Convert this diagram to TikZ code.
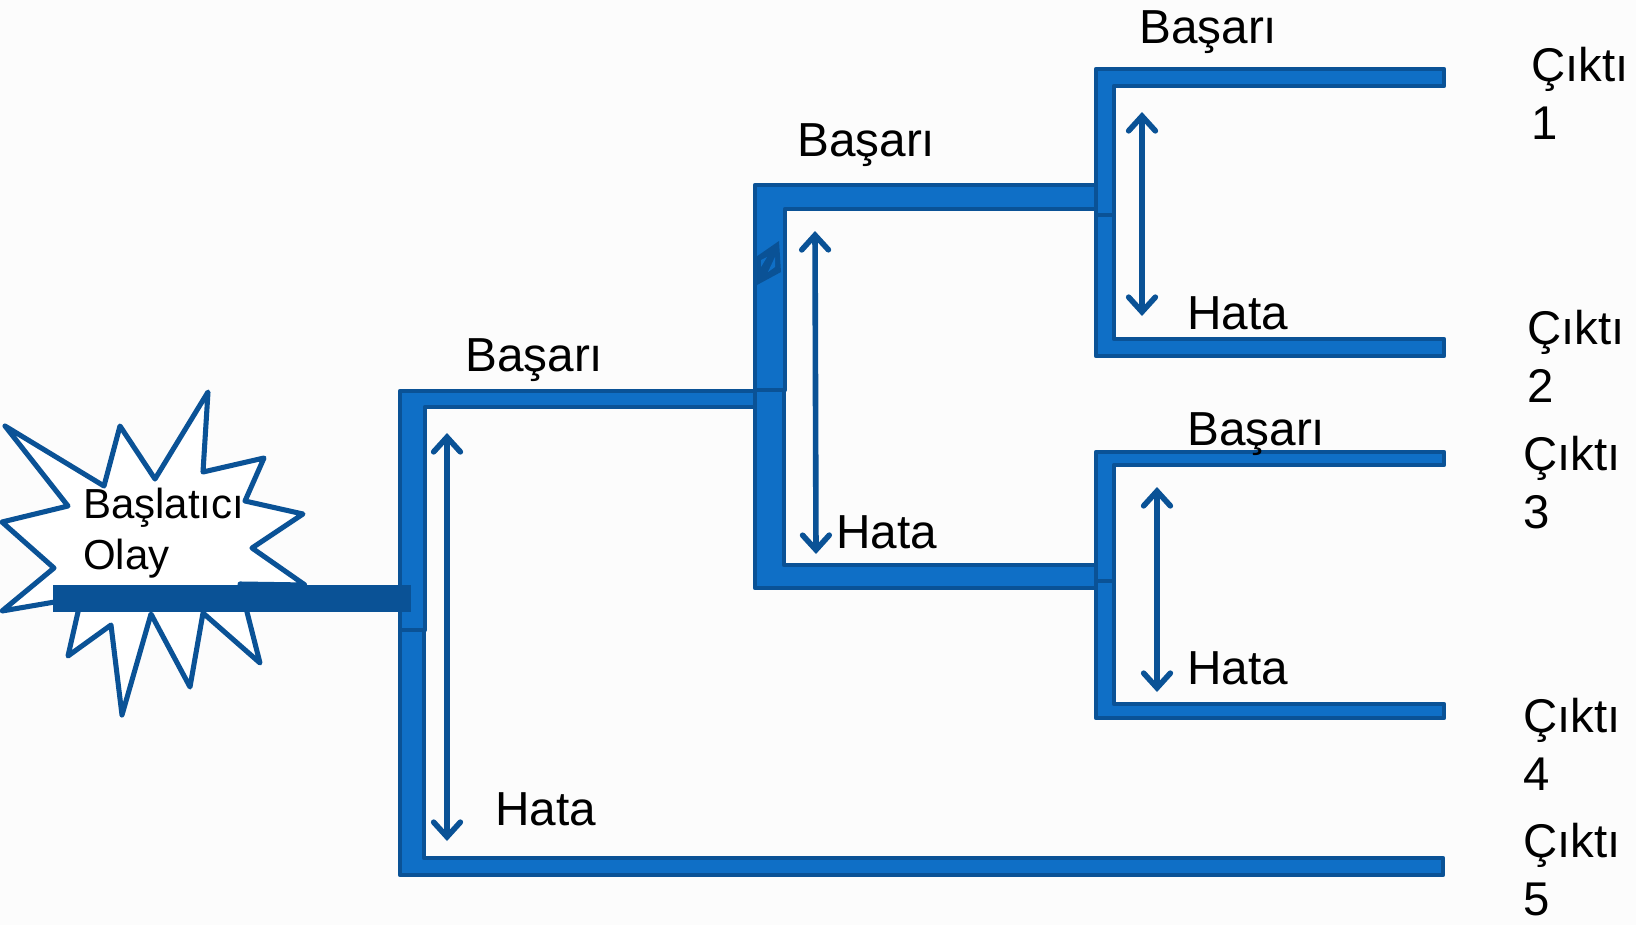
\documentclass[tikz,border=0pt]{standalone}
\usepackage{fontspec}
\setmainfont{Liberation Sans}
\usetikzlibrary{arrows.meta}
\definecolor{koyu}{HTML}{0A5296}
\definecolor{dal}{HTML}{0F6FC6}

\begin{document}
\begin{tikzpicture}[x=0.75pt,y=-0.75pt,
      branch/.style={draw=koyu,fill=dal,line width=3.6pt,line join=round},
      patlama/.style={draw=koyu,fill=white,line width=3.8pt,line join=round},
      aralik/.style={draw=koyu,line width=4.2pt,line cap=round,{Straight Barb[length=11pt,width=20pt,line cap=round]}-{Straight Barb[length=11pt,width=20pt,line cap=round]}},
      etiket/.style={anchor=base west,inner sep=0pt,font=\fontsize{35.8}{42}\selectfont},
      cikti/.style={anchor=north west,inner sep=0pt,align=left,font=\fontsize{35.5}{43.5}\selectfont}]

    \fill[black!1] (0,0) rectangle (1636,925);
    \useasboundingbox (0,0) rectangle (1636,925);

    % baslatici olay
    \draw[patlama] (5,426) -- (104,486) -- (120,426) -- (155,479) -- (208,392) -- (203,472)
      -- (264,458) -- (245,501) -- (303,514) -- (252,548) -- (305,585) -- (240,584)
      -- (247,612) -- (260,663) -- (203,613) -- (190,687) -- (151,614) -- (122,715)
      -- (111,625) -- (68,656) -- (78,612) -- (78,598) -- (2,611) -- (54,568) -- (2,522)
      -- (68,506) -- cycle;
    \node[anchor=base west,inner sep=0pt,align=left,font=\fontsize{31.5}{38}\selectfont] (olay) at (83,518) {Başlatıcı};
    \node[anchor=base west,inner sep=0pt,font=\fontsize{31.5}{38}\selectfont] (olay2) at (83,569) {Olay};

    % birinci dal
    \draw[branch] (400,598) -- (400,875) -- (1443,875) -- (1443,858) -- (424,858) -- (424,598) -- cycle;
    \draw[branch] (400,630) -- (400,391) -- (755,391) -- (755,407) -- (425,407) -- (425,630) -- cycle;

    % ikinci dal
    \draw[branch] (755,390) -- (755,588) -- (1097,588) -- (1097,565) -- (784,565) -- (784,390) -- cycle;
    \draw[branch] (755,390) -- (755,185) -- (1097,185) -- (1097,209) -- (785,209) -- (785,390) -- cycle;
    \fill[koyu] (753,259) -- (779,241) -- (781,272) -- (757,285) -- cycle;
    \fill[dal] (761,260) -- (767,257) -- (761,267) -- cycle;
    \fill[dal] (775,257) -- (775,267) -- (768,272) -- cycle;

    % ucuncu dallar
    \draw[branch] (1096,215) -- (1096,356) -- (1444,356) -- (1444,339) -- (1114,339) -- (1114,215) -- cycle;
    \draw[branch] (1096,215) -- (1096,69) -- (1444,69) -- (1444,86) -- (1114,86) -- (1114,215) -- cycle;
    \draw[branch] (1096,581) -- (1096,718) -- (1444,718) -- (1444,704) -- (1114,704) -- (1114,581) -- cycle;
    \draw[branch] (1096,581) -- (1096,452) -- (1444,452) -- (1444,465) -- (1114,465) -- (1114,581) -- cycle;

    % baslangic cubugu
    \node[fill=koyu,inner sep=0pt,minimum width=268.5pt,minimum height=20pt,anchor=north west] (bar) at (53,585) {};

    % araliklar
    \coordinate (a1) at (447,433);
    \coordinate (b1) at (447,841);
    \coordinate (a2) at (815,231);
    \coordinate (b2) at (816,554);
    \coordinate (a3) at (1142,112);
    \coordinate (b3) at (1142,316);
    \coordinate (a4) at (1157,487);
    \coordinate (b4) at (1157,692);
    \draw[aralik] (a1) -- (b1);
    \draw[aralik] (a2) -- (b2);
    \draw[aralik] (a3) -- (b3);
    \draw[aralik] (a4) -- (b4);

    \node[etiket] (b1lbl) at (465,371) {Başarı};
    \node[etiket] (b2lbl) at (797,156) {Başarı};
    \node[etiket] (b3lbl) at (1139,43) {Başarı};
    \node[etiket] (b4lbl) at (1187,445) {Başarı};
    \node[etiket] (h1lbl) at (495,825) {Hata};
    \node[etiket] (h2lbl) at (836,548) {Hata};
    \node[etiket] (h3lbl) at (1187,329) {Hata};
    \node[etiket] (h4lbl) at (1187,684) {Hata};

    \node[cikti] (c1) at (1531,47) {Çıktı\\1};
    \node[cikti] (c2) at (1527,310) {Çıktı\\2};
    \node[cikti] (c3) at (1523,436) {Çıktı\\3};
    \node[cikti] (c4) at (1523,698) {Çıktı\\4};
    \node[cikti] (c5) at (1523,823) {Çıktı\\5};

    \end{tikzpicture}
\end{document}
